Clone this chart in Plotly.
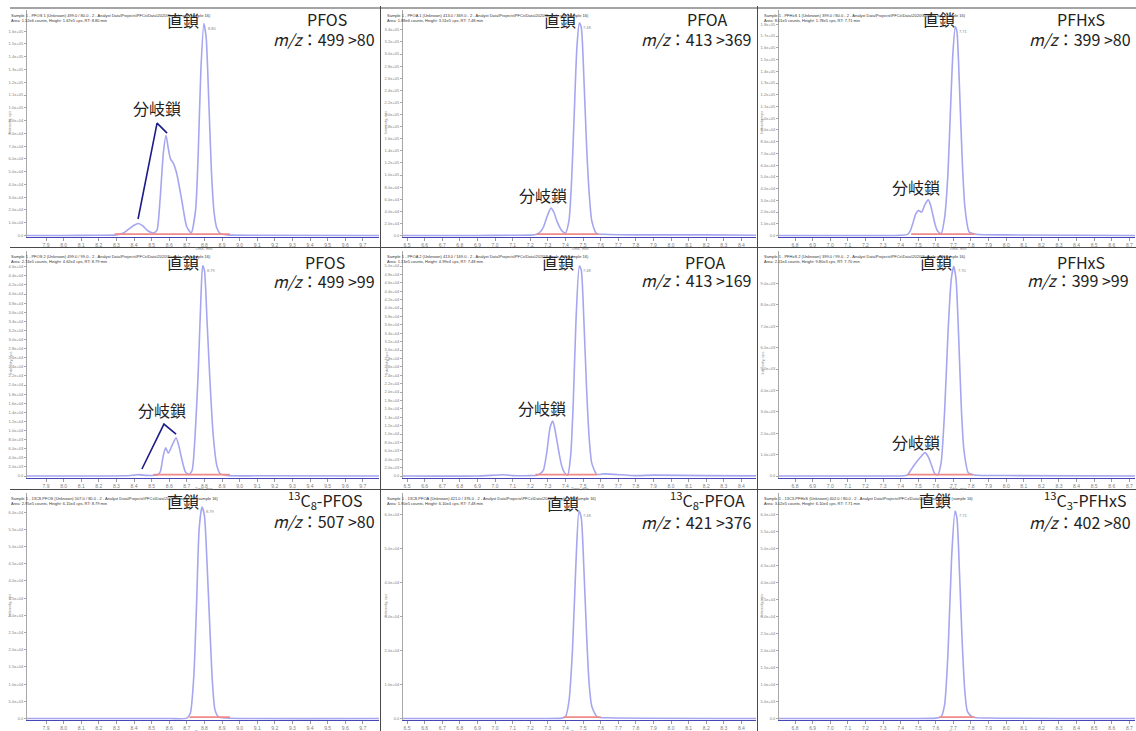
import plotly.graph_objects as go

W, H = 1136, 731
FONT = "Noto Sans CJK JP"

# ---------------- data ----------------
compounds = ["PFOS", "PFOA", "PFHxS",
             "PFOS", "PFOA", "PFHxS",
             "<sup>13</sup>C<sub>8</sub>-PFOS", "<sup>13</sup>C<sub>8</sub>-PFOA", "<sup>13</sup>C<sub>3</sub>-PFHxS"]
transitions = ["499 >80", "413 >369", "399 >80",
               "499 >99", "413 >169", "399 >99",
               "507 >80", "421 >376", "402 >80"]
straight_label = "直鎖"
branched_label = "分岐鎖"

pfos_x_ticks = [7.9, 8.0, 8.1, 8.2, 8.3, 8.4, 8.5, 8.6, 8.7, 8.8, 8.9, 9.0, 9.1, 9.2, 9.3, 9.4, 9.5, 9.6, 9.7]
pfoa_x_ticks = [6.5, 6.6, 6.7, 6.8, 6.9, 7.0, 7.1, 7.2, 7.3, 7.4, 7.5, 7.6, 7.7, 7.8, 7.9, 8.0, 8.1, 8.2, 8.3, 8.4]
pfhxs_x_ticks = [6.8, 6.9, 7.0, 7.1, 7.2, 7.3, 7.4, 7.5, 7.6, 7.7, 7.8, 7.9, 8.0, 8.1, 8.2, 8.3, 8.4, 8.5, 8.6, 8.7]
col_x_ticks = [pfos_x_ticks, pfoa_x_ticks, pfhxs_x_ticks]
col_x_range = [[7.792, 9.792], [6.477, 8.483], [6.709, 8.732]]

# retention times (min) and intensities (in y-tick units)
t1 = [7.79, 8.00, 8.20, 8.30, 8.34, 8.37, 8.40, 8.425, 8.45, 8.48, 8.51, 8.53, 8.548, 8.567, 8.582, 8.595, 8.607, 8.622, 8.642, 8.671, 8.699, 8.725, 8.75, 8.765, 8.78, 8.797, 8.81, 8.825, 8.84, 8.855, 8.87, 8.89, 8.93, 9.10, 9.80]
y1 = [0, 0, 0.02, 0.05, 0.2, 0.5, 0.8, 0.94, 0.75, 0.35, 0.2, 0.4, 2.8, 6.5, 7.83, 6.8, 6.0, 5.7, 4.9, 2.8, 0.7, 0.2, 2.0, 6.5, 13.0, 16.6, 15.5, 10.5, 5.0, 1.8, 0.6, 0.15, 0.05, 0.02, 0]

t2 = [6.477, 6.90, 7.10, 7.20, 7.237, 7.26, 7.275, 7.294, 7.318, 7.335, 7.35, 7.365, 7.379, 7.40, 7.42, 7.435, 7.45, 7.465, 7.479, 7.49, 7.505, 7.52, 7.535, 7.55, 7.578, 7.62, 7.80, 8.20, 8.483]
y2 = [0, 0, 0.02, 0.03, 0.1, 0.35, 0.7, 1.5, 2.26, 1.9, 1.25, 0.75, 0.4, 0.2, 1.2, 4.5, 10.0, 15.5, 17.55, 17.2, 13.0, 7.5, 3.5, 1.2, 0.15, 0.1, 0.05, 0.05, 0.02]

t3 = [6.709, 7.20, 7.40, 7.44, 7.455, 7.469, 7.485, 7.501, 7.52, 7.54, 7.558, 7.57, 7.582, 7.595, 7.607, 7.63, 7.65, 7.668, 7.683, 7.697, 7.711, 7.72, 7.735, 7.75, 7.765, 7.79, 7.83, 8.0, 8.732]
y3 = [0, 0, 0.02, 0.1, 0.4, 1.0, 1.8, 2.13, 2.0, 2.7, 3.04, 2.6, 1.85, 1.0, 0.45, 0.14, 1.5, 5.0, 10.5, 15.5, 17.8, 17.4, 12.5, 6.5, 2.5, 0.3, 0.1, 0.05, 0]

t4 = [7.79, 8.20, 8.35, 8.40, 8.425, 8.45, 8.50, 8.53, 8.548, 8.567, 8.58, 8.595, 8.615, 8.639, 8.655, 8.671, 8.692, 8.712, 8.73, 8.75, 8.765, 8.78, 8.79, 8.80, 8.815, 8.83, 8.85, 8.87, 8.89, 8.93, 9.10, 9.80]
y4 = [0, 0, 0.02, 0.1, 0.15, 0.1, 0.05, 0.1, 0.4, 2.3, 3.1, 2.5, 3.3, 4.2, 3.3, 1.9, 0.45, 0.15, 0.6, 5.5, 11.5, 19.5, 23.1, 22.6, 17.0, 11.0, 4.5, 1.2, 0.25, 0.05, 0.02, 0]

t5 = [6.477, 6.90, 7.05, 7.10, 7.20, 7.237, 7.26, 7.275, 7.294, 7.313, 7.328, 7.34, 7.35, 7.365, 7.379, 7.395, 7.413, 7.43, 7.445, 7.46, 7.479, 7.49, 7.505, 7.52, 7.535, 7.55, 7.578, 7.62, 7.80, 7.90, 8.20, 8.483]
y5 = [0, 0, 0.15, 0.05, 0.05, 0.1, 0.35, 0.7, 2.8, 5.8, 6.55, 5.6, 4.4, 2.6, 1.2, 0.4, 0.1, 2.5, 9.0, 18.5, 25.0, 24.5, 18.5, 10.5, 4.5, 1.5, 0.2, 0.25, 0.05, 0.1, 0.05, 0.02]

t6 = [6.709, 7.30, 7.42, 7.44, 7.46, 7.484, 7.51, 7.539, 7.56, 7.58, 7.595, 7.611, 7.63, 7.65, 7.67, 7.688, 7.702, 7.715, 7.73, 7.745, 7.76, 7.785, 7.82, 8.0, 8.732]
y6 = [0, 0, 0.01, 0.05, 0.3, 0.58, 0.85, 1.09, 0.85, 0.4, 0.1, 0.05, 0.6, 3.0, 6.8, 9.2, 9.8, 9.2, 6.5, 3.2, 1.2, 0.15, 0.05, 0.02, 0]

t7 = [7.79, 8.60, 8.70, 8.72, 8.74, 8.755, 8.77, 8.786, 8.80, 8.815, 8.83, 8.845, 8.86, 8.88, 8.92, 9.80]
y7 = [0, 0, 0.02, 0.3, 2.5, 6.5, 11.0, 12.3, 11.8, 9.0, 5.5, 2.2, 0.5, 0.1, 0.03, 0]

t8 = [6.477, 7.20, 7.38, 7.40, 7.42, 7.44, 7.46, 7.477, 7.49, 7.505, 7.52, 7.535, 7.55, 7.58, 7.65, 8.483]
y8 = [0, 0, 0.01, 0.05, 0.5, 2.0, 4.6, 6.1, 5.9, 4.4, 2.5, 1.0, 0.35, 0.05, 0.02, 0]

t9 = [6.709, 7.45, 7.60, 7.63, 7.65, 7.67, 7.69, 7.709, 7.72, 7.735, 7.75, 7.765, 7.78, 7.81, 7.90, 8.732]
y9 = [0, 0, 0.02, 0.1, 0.8, 4.0, 9.5, 12.2, 11.8, 8.5, 4.5, 1.6, 0.4, 0.08, 0.03, 0]

times = [t1, t2, t3, t4, t5, t6, t7, t8, t9]
intens = [y1, y2, y3, y4, y5, y6, y7, y8, y9]

# apex retention times shown above peaks
apex_rt = [8.797, 7.479, 7.711, 8.79, 7.479, 7.702, 8.786, 7.477, 7.709]
apex_y = [16.6, 17.55, 17.8, 23.1, 25.0, 9.8, 12.3, 6.1, 12.2]

# integration baseline segments (start, end)
integ = [(8.29, 8.945), (7.237, 7.587), (7.46, 7.82),
         (8.51, 8.945), (7.23, 7.58), (7.44, 7.81),
         (8.715, 8.945), (7.39, 7.60), (7.62, 7.82)]

# y tick counts and step labels
y_tick_count = [16, 17, 18, 23, 25, 9, 12, 6, 12]
y_tick_step = [1.0e4, 2.0e4, 1.0e4, 2.0e3, 2.0e3, 1.0e3, 5.0e3, 1.0e4, 5.0e3]

# does a panel have branched isomers
has_branch = [True, True, True, True, True, True, False, False, False]

info_lines = [
    ("Sample 1 - PFOS 1 (Unknown) 499.0 / 80.0 - 2 - Analyst Data\\Projects\\PFCs\\Data\\2020\\Sample.wiff (sample 16)", "Area: 1.52e6 counts, Height: 1.67e5 cps, RT: 8.80 min"),
    ("Sample 1 - PFOA 1 (Unknown) 413.0 / 369.0 - 2 - Analyst Data\\Projects\\PFCs\\Data\\2020\\Sample.wiff (sample 16)", "Area: 1.88e6 counts, Height: 3.51e5 cps, RT: 7.48 min"),
    ("Sample 1 - PFHxS 1 (Unknown) 399.0 / 80.0 - 2 - Analyst Data\\Projects\\PFCs\\Data\\2020\\Sample.wiff (sample 16)", "Area: 8.01e5 counts, Height: 1.78e5 cps, RT: 7.71 min"),
    ("Sample 1 - PFOS 2 (Unknown) 499.0 / 99.0 - 2 - Analyst Data\\Projects\\PFCs\\Data\\2020\\Sample.wiff (sample 16)", "Area: 2.74e5 counts, Height: 4.62e4 cps, RT: 8.79 min"),
    ("Sample 1 - PFOA 2 (Unknown) 413.0 / 169.0 - 2 - Analyst Data\\Projects\\PFCs\\Data\\2020\\Sample.wiff (sample 16)", "Area: 1.13e5 counts, Height: 4.99e4 cps, RT: 7.48 min"),
    ("Sample 1 - PFHxS 2 (Unknown) 399.0 / 99.0 - 2 - Analyst Data\\Projects\\PFCs\\Data\\2020\\Sample.wiff (sample 16)", "Area: 2.11e4 counts, Height: 9.80e3 cps, RT: 7.70 min"),
    ("Sample 1 - 13C8-PFOS (Unknown) 507.0 / 80.0 - 2 - Analyst Data\\Projects\\PFCs\\Data\\2020\\Sample.wiff (sample 16)", "Area: 2.95e5 counts, Height: 6.15e4 cps, RT: 8.79 min"),
    ("Sample 1 - 13C8-PFOA (Unknown) 421.0 / 376.0 - 2 - Analyst Data\\Projects\\PFCs\\Data\\2020\\Sample.wiff (sample 16)", "Area: 1.90e5 counts, Height: 6.10e4 cps, RT: 7.48 min"),
    ("Sample 1 - 13C3-PFHxS (Unknown) 402.0 / 80.0 - 2 - Analyst Data\\Projects\\PFCs\\Data\\2020\\Sample.wiff (sample 16)", "Area: 3.02e5 counts, Height: 6.10e4 cps, RT: 7.71 min"),
]

# ---------------- layout geometry (pixels) ----------------
col_x0 = [27, 403, 779]
col_x1 = [379, 756, 1135]
row_top = [10, 251, 493]
row_base = [235.5, 476, 718.5]
y_px_per_unit = [12.77, 12.1, 11.73, 9.1, 8.4, 21.4, 17.2, 34.0, 17.0]

# label positions (pixel centres)
straight_pos = [(183, 20), (560, 20), (939, 19), (183, 262), (558, 262), (936, 262), (183, 501), (563, 503), (935, 500)]
branch_pos = [(157, 108), (543, 195), (916, 187), (162, 410), (542, 408), (916, 442)]
comp_pos = [(327, 19), (707, 19), (1081, 19), (325, 262), (705, 262), (1081, 262), (325, 500), (707, 500), (1085, 500)]
mz_pos = [(377, 39), (754, 39), (1133, 39), (377, 281), (754, 280), (1131, 280), (377, 521), (754, 522), (1133, 522)]

# branch bracket lines (panel index, [(t, y), ...])
brackets = {0: [(8.423, 1.29), (8.531, 8.8), (8.588, 8.02)],
            3: [(8.445, 0.77), (8.57, 5.71), (8.639, 4.6)]}


def px(x):
    return x / W


def py(y):
    return 1 - y / H


fig = go.Figure()
annotations = []
shapes = []
layout_axes = {}

CURVE = "#a6a6f0"
BASE = "#4646b4"

for i in range(9):
    r, c = divmod(i, 3)
    sfx = "" if i == 0 else str(i + 1)
    xa, ya = "x" + sfx, "y" + sfx
    sp = y_px_per_unit[i]
    ymax = (row_base[r] - row_top[r]) / sp
    ymin = -1.5 / sp

    fig.add_trace(go.Scatter(x=times[i], y=intens[i], mode="lines", xaxis=xa, yaxis=ya,
                             line=dict(color=CURVE, width=1.6, shape="spline", smoothing=0.6),
                             showlegend=False, hoverinfo="skip"))
    s, e = integ[i]
    fig.add_trace(go.Scatter(x=[s, e], y=[1.4 / sp, 1.4 / sp], mode="lines", xaxis=xa, yaxis=ya,
                             line=dict(color="#f08a8a", width=1.6), showlegend=False, hoverinfo="skip"))

    n = y_tick_count[i]
    yvals = list(range(n + 1))
    ytext = ["0.0"] + [f"{k * y_tick_step[i]:.1e}" for k in range(1, n + 1)]

    layout_axes["xaxis" + sfx] = dict(
        domain=[px(col_x0[c]), px(col_x1[c])], anchor=ya, range=col_x_range[c],
        tickvals=col_x_ticks[c], ticktext=[f"{v:.1f}" for v in col_x_ticks[c]],
        showline=True, linecolor=BASE, linewidth=1.3, ticks="outside", ticklen=3,
        tickcolor="#9a9a9a", tickwidth=1, tickfont=dict(size=5, color="#808080", family="Arial"),
        showgrid=False, zeroline=False, fixedrange=True)
    layout_axes["yaxis" + sfx] = dict(
        domain=[py(row_base[r] + 1.5), py(row_top[r])], anchor=xa, range=[ymin, ymax],
        tickvals=yvals, ticktext=ytext,
        showline=True, linecolor="#a8a8a8", linewidth=1, ticks="outside", ticklen=2,
        tickcolor="#a8a8a8", tickfont=dict(size=4, color="#808080", family="Arial"),
        showgrid=False, zeroline=False, fixedrange=True)

    # texts
    sx, sy = straight_pos[i]
    annotations.append(dict(x=px(sx), y=py(sy), xref="paper", yref="paper", text=straight_label,
                            showarrow=False, xanchor="center", yanchor="middle",
                            font=dict(size=16, color="#222222", family=FONT)))
    cx, cy = comp_pos[i]
    annotations.append(dict(x=px(cx), y=py(cy), xref="paper", yref="paper", text=compounds[i],
                            showarrow=False, xanchor="center", yanchor="middle",
                            font=dict(size=16, color="#222222", family=FONT)))
    mx, my = mz_pos[i]
    annotations.append(dict(x=px(mx), y=py(my), xref="paper", yref="paper",
                            text="<i>m/z</i>：" + transitions[i],
                            showarrow=False, xanchor="right", yanchor="middle",
                            font=dict(size=16, color="#222222", family=FONT)))
    if has_branch[i]:
        bx, by = branch_pos[i]
        annotations.append(dict(x=px(bx), y=py(by), xref="paper", yref="paper", text=branched_label,
                                showarrow=False, xanchor="center", yanchor="middle",
                                font=dict(size=16, color="#222222", family=FONT)))
    # apex RT
    annotations.append(dict(x=apex_rt[i], y=apex_y[i], xref=xa, yref=ya, text=f"{apex_rt[i]:.2f}",
                            showarrow=False, xanchor="left", yanchor="top", xshift=2,
                            font=dict(size=4, color="#888888", family="Arial")))
    # info lines
    l1, l2 = info_lines[i]
    ix = [9, 385, 762][c]
    iy = [11, 252, 494][r]
    annotations.append(dict(x=px(ix), y=py(iy), xref="paper", yref="paper", text=l1 + "<br>" + l2,
                            showarrow=False, xanchor="left", yanchor="top", align="left",
                            font=dict(size=4, color="#333333", family="Arial")))
    # axis titles
    annotations.append(dict(x=px((col_x0[c] + col_x1[c]) / 2), y=py(row_base[r] + 8), xref="paper", yref="paper",
                            text="Time, min", showarrow=False, xanchor="center", yanchor="top",
                            font=dict(size=4, color="#888888", family="Arial")))
    annotations.append(dict(x=px(col_x0[c] - 17), y=py((row_top[r] + row_base[r]) / 2), xref="paper", yref="paper",
                            text="Intensity, cps", showarrow=False, textangle=-90, xanchor="center", yanchor="middle",
                            font=dict(size=4, color="#888888", family="Arial")))

# branch brackets
for i, pts in brackets.items():
    sfx = "" if i == 0 else str(i + 1)
    fig.add_trace(go.Scatter(x=[p[0] for p in pts], y=[p[1] for p in pts], mode="lines",
                             xaxis="x" + sfx, yaxis="y" + sfx,
                             line=dict(color="#1c1c8a", width=1.6), showlegend=False, hoverinfo="skip"))

# panel frames
frame = dict(color="#4a4a4a", width=1)
for yy in [8, 247.5, 489.5]:
    shapes.append(dict(type="line", xref="paper", yref="paper", x0=px(10), x1=1, y0=py(yy), y1=py(yy), line=frame))
for xx in [380.5, 757.5]:
    shapes.append(dict(type="line", xref="paper", yref="paper", x0=px(xx), x1=px(xx), y0=0, y1=py(6), line=frame))

fig.update_layout(width=W, height=H, margin=dict(l=0, r=0, t=0, b=0),
                  paper_bgcolor="white", plot_bgcolor="white",
                  annotations=annotations, shapes=shapes, showlegend=False,
                  font=dict(family=FONT), **layout_axes)

fig.write_html("out.html", config={"displayModeBar": False, "staticPlot": True},
               post_script="document.body.style.margin='0px';document.body.style.padding='0px';"
                           "document.body.style.overflow='hidden';")
